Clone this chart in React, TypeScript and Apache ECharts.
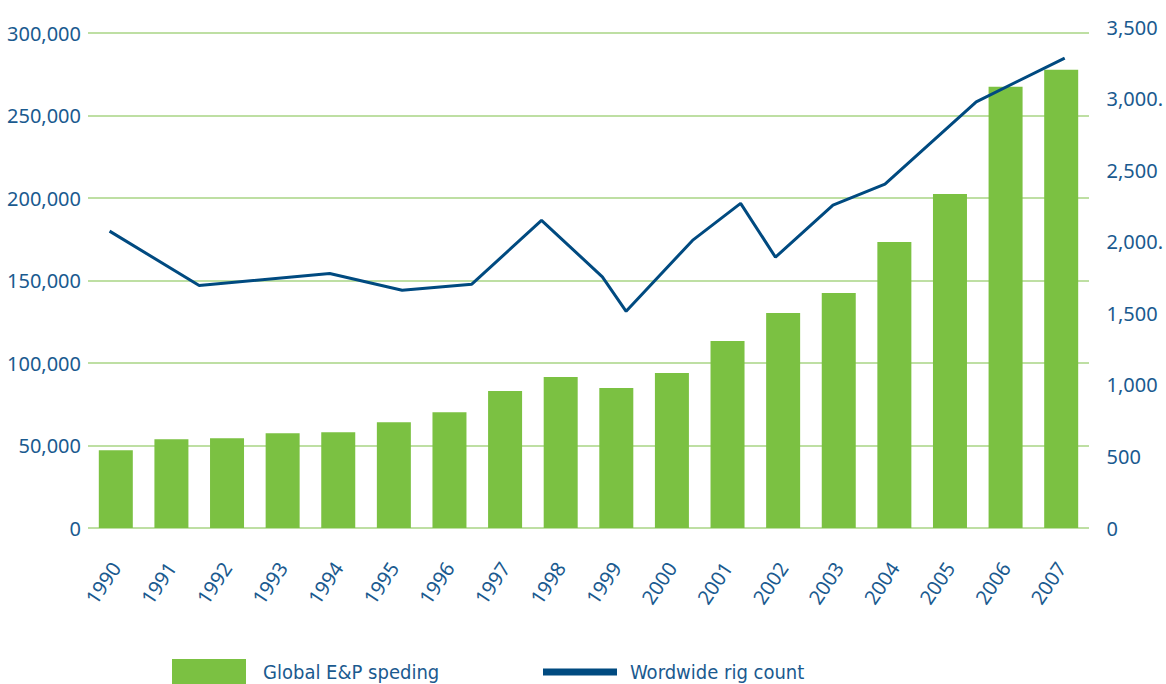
import React, { useEffect, useRef } from "react";
import * as echarts from "echarts";

const years = ["1990","1991","1992","1993","1994","1995","1996","1997","1998","1999","2000","2001","2002","2003","2004","2005","2006","2007"];
const spending = [47150, 53800, 54400, 57500, 58100, 64100, 70200, 83000, 91500, 84800, 93900, 113300, 130300, 142400, 173300, 202400, 267400, 277700];
// rig count line vertices: position along the year axis and count
const rigPeriods = [1989.89, 1991.51, 1993.87, 1995.18, 1996.44, 1997.70, 1998.80, 1999.23, 2000.43, 2001.30, 2001.93, 2002.97, 2003.91, 2005.56, 2007.16];
const rigCount = [2074, 1694, 1778, 1661, 1703, 2149, 1755, 1514, 2009, 2268, 1892, 2256, 2403, 2977, 3283];
const leftTickLabels = ["0", "50,000", "100,000", "150,000", "200,000", "250,000", "300,000"];
const rightTickLabels = ["0", "500", "1,000", "1,500", "2,000.", "2,500", "3,000.", "3,500"];
const seriesNames = ["Global E&P speding", "Wordwide rig count"];

const TEXT = "#1a5a8f";
const BAR = "#7bc142";
const LINE = "#004a80";
const GRIDLINE = "#a8d584";
const FONT = "'Noto Sans', 'Open Sans', sans-serif";
const NARROW = "'Liberation Sans Narrow', 'DejaVu Sans Condensed', sans-serif";

export default function App() {
  const ref = useRef<HTMLDivElement>(null);
  useEffect(() => {
    if (!ref.current) return;
    const chart = echarts.init(ref.current, null, { renderer: "svg" });
    chart.setOption({
      animation: false,
      backgroundColor: "#ffffff",
      grid: [
        { left: 88, right: 77, top: 33, bottom: 156 },
        { left: 88, right: 77, top: 27, bottom: 156 },
      ],
      legend: [
        {
          data: [seriesNames[0]],
          left: 172,
          top: 659,
          padding: 0,
          icon: "rect",
          itemWidth: 74,
          itemHeight: 26,
          textStyle: { color: TEXT, fontSize: 20, fontFamily: NARROW, padding: [0, 0, 0, 12] },
        },
        {
          data: [seriesNames[1]],
          left: 543,
          top: 662,
          padding: 0,
          icon: "rect",
          itemWidth: 74,
          itemHeight: 7,
          textStyle: { color: TEXT, fontSize: 20, fontFamily: NARROW, padding: [0, 0, 0, 8] },
        },
      ],
      xAxis: [
        {
          type: "category",
          gridIndex: 0,
          data: years,
          axisLine: { show: false },
          axisTick: { show: false },
          axisLabel: { rotate: 56, margin: 36, color: TEXT, fontSize: 20, fontFamily: FONT },
        },
        {
          type: "value",
          gridIndex: 1,
          min: 1989.5,
          max: 2007.5,
          show: false,
        },
      ],
      yAxis: [
        {
          type: "value",
          gridIndex: 0,
          min: 0,
          max: 300000,
          interval: 50000,
          axisLine: { show: false },
          axisTick: { show: false },
          splitLine: { lineStyle: { color: GRIDLINE, width: 1.5 } },
          axisLabel: {
            margin: 7,
            color: TEXT,
            fontSize: 20,
            fontFamily: FONT,
            formatter: (v: number) => leftTickLabels[Math.round(v / 50000)] ?? "",
          },
        },
        {
          type: "value",
          gridIndex: 1,
          position: "right",
          min: 0,
          max: 3500,
          interval: 500,
          axisLine: { show: false },
          axisTick: { show: false },
          splitLine: { show: false },
          axisLabel: {
            margin: 23,
            color: TEXT,
            fontSize: 20,
            fontFamily: FONT,
            formatter: (v: number) => rightTickLabels[Math.round(v / 500)] ?? "",
          },
        },
      ],
      series: [
        {
          name: seriesNames[0],
          type: "bar",
          xAxisIndex: 0,
          yAxisIndex: 0,
          barWidth: 34,
          itemStyle: { color: BAR },
          data: spending,
        },
        {
          name: seriesNames[1],
          type: "line",
          xAxisIndex: 1,
          yAxisIndex: 1,
          symbol: "none",
          itemStyle: { color: LINE },
          lineStyle: { color: LINE, width: 3 },
          data: rigPeriods.map((p, i) => [p, rigCount[i]]),
          z: 3,
        },
      ],
    });
    return () => chart.dispose();
  }, []);
  return (
    <div
      ref={ref}
      style={{ position: "fixed", left: 0, top: 0, width: 1166, height: 684 }}
    />
  );
}
